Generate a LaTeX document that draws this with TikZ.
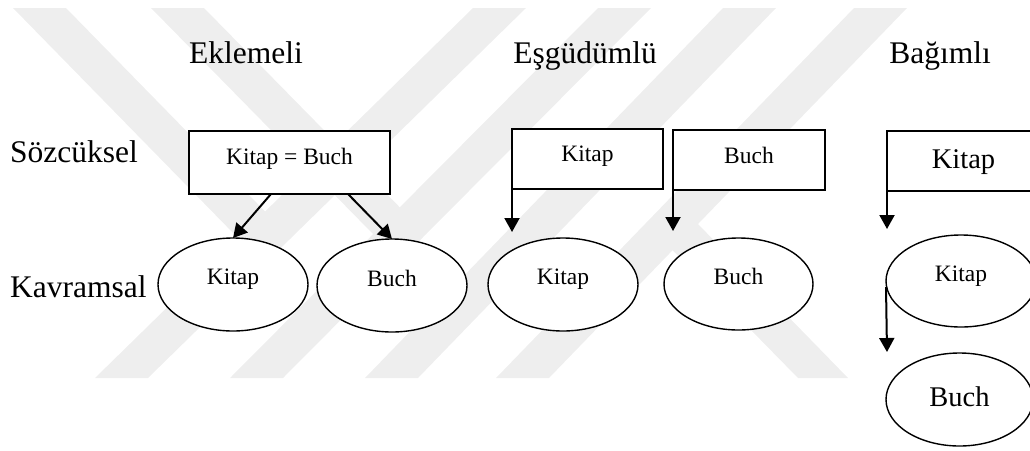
\documentclass[tikz,border=0pt]{standalone}
\usepackage{fontspec}
\setmainfont{Liberation Serif}
\usetikzlibrary{arrows.meta,shapes.geometric,calc}
\newcommand{\hdfont}{\fontsize{31.5}{36}\selectfont}
\newcommand{\bxfont}{\fontsize{23.5}{28}\selectfont}
\newcommand{\bgfont}{\fontsize{28.5}{34}\selectfont}
\definecolor{clrW}{RGB}{238,238,238}
\tikzset{
  heading/.style={font=\hdfont,inner sep=0pt,anchor=base},
  rowlabel/.style={font=\hdfont,inner sep=0pt,anchor=base west},
  lexbox/.style={rectangle,draw=black,line width=1.3pt,fill=white,
    font=\bxfont,minimum width=151pt,minimum height=60pt,
    inner sep=0pt,outer sep=0pt,text depth=10pt},
  concept/.style={ellipse,draw=black,line width=1.4pt,fill=white,
    font=\bxfont,minimum width=150pt,minimum height=93pt,
    inner sep=0pt,outer sep=0pt,text depth=15pt},
  arrow/.style={-{Triangle[length=14pt,width=15pt]},line width=2pt},
  wmband/.style={fill=clrW,draw=none}
}

\begin{document}
\begin{tikzpicture}[x=1pt,y=-1pt]
  \useasboundingbox (0,0) rectangle (1030,450);

  % watermark in the background
  \fill[wmband] (13,8) -- (66,8) -- (291,238) -- (238,238) -- cycle;
  \fill[wmband] (151,8) -- (204,8) -- (426,234) -- (373,234) -- cycle;
  \foreach \tx/\bx in {473/95,598/230,723/365,854/496}
    \fill[wmband] (\tx,8) -- (\tx+53,8) -- (\bx+53,378) -- (\bx,378) -- cycle;
  \fill[wmband] (646,223) -- (697,223) -- (848,378) -- (798,378) -- cycle;

  % column and row headings
  \node[heading] (hdAdd) at (246,63) {Eklemeli};
  \node[heading] (hdCoord) at (585,63) {Eşgüdümlü};
  \node[heading] (hdSub) at (940,63) {Bağımlı};
  \node[rowlabel] (rowLex) at (10,162) {Sözcüksel};
  \node[rowlabel] (rowConc) at (10,297) {Kavramsal};

  % Eklemeli
  \node[lexbox,minimum width=201pt,minimum height=63pt,text depth=13pt]
    (lexA) at (289.5,162.5) {Kitap = Buch};
  \node[concept] (concA1) at (233,284.5) {Kitap};
  \node[concept] (concA2) at (392,285.5) {Buch};
  \draw[arrow] ([xshift=-18.5pt]lexA.south) -- (concA1.north);
  \draw[arrow] ([xshift=58.5pt]lexA.south) -- (concA2.north);

  % Eşgüdümlü
  \node[lexbox] (lexB1) at (587.5,159) {Kitap};
  \node[lexbox,minimum width=152pt] (lexB2) at (749,160) {Buch};
  \node[concept] (concB1) at (563,284.5) {Kitap};
  \node[concept,minimum width=149pt,minimum height=92pt] (concB2) at (738.5,284) {Buch};
  \coordinate (endB1) at (512,232);
  \coordinate (endB2) at (673,231);
  \draw[arrow] (lexB1.south west) -- (endB1);
  \draw[arrow] (lexB2.south west) -- (endB2);

  % Bağımlı
  \node[lexbox,font=\bgfont,minimum width=153pt,text depth=3.5pt]
    (lexC) at (963.5,161) {Kitap};
  \node[concept,minimum height=92pt,text depth=14pt] (concC1) at (961,281) {Kitap};
  \node[concept,font=\bgfont,minimum width=147pt,text depth=6.5pt]
    (concC2) at (959.5,399.5) {Buch};
  \coordinate (endC1) at (887,229);
  \coordinate (endC2) at (887,352);
  \draw[arrow] (lexC.south west) -- (endC1);
  \draw[arrow] ([yshift=-6pt]concC1.west) -- (endC2);
\end{tikzpicture}
\end{document}
